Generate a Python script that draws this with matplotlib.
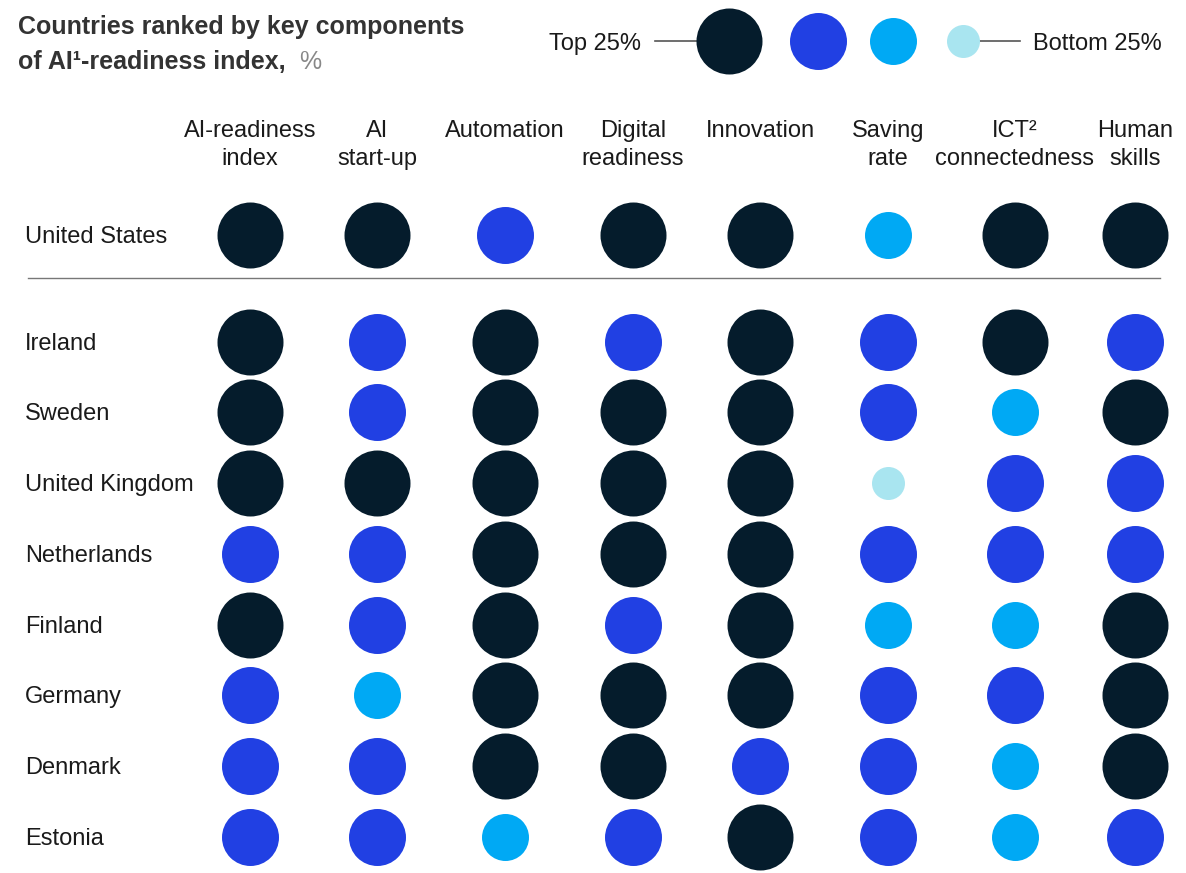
import matplotlib.pyplot as plt
import numpy as np

plt.rcParams['font.family'] = ['Liberation Sans', 'DejaVu Sans']

# quartile of each country per component: 1 = top 25%, 4 = bottom 25%
columns = ['AI-readiness\nindex', 'AI\nstart-up', 'Automation', 'Digital\nreadiness',
           'Innovation', 'Saving\nrate', 'ICT\u00b2\nconnectedness', 'Human\nskills']
countries = ['United States', 'Ireland', 'Sweden', 'United Kingdom', 'Netherlands',
             'Finland', 'Germany', 'Denmark', 'Estonia']
united_states = [1, 1, 2, 1, 1, 3, 1, 1]
ireland = [1, 2, 1, 2, 1, 2, 1, 2]
sweden = [1, 2, 1, 1, 1, 2, 3, 1]
united_kingdom = [1, 1, 1, 1, 1, 4, 2, 2]
netherlands = [2, 2, 1, 1, 1, 2, 2, 2]
finland = [1, 2, 1, 2, 1, 3, 3, 1]
germany = [2, 3, 1, 1, 1, 2, 2, 1]
denmark = [2, 2, 1, 1, 2, 2, 3, 1]
estonia = [2, 2, 3, 2, 1, 2, 3, 2]
quartiles = np.array([united_states, ireland, sweden, united_kingdom, netherlands,
                      finland, germany, denmark, estonia])

colors = {1: '#051C2C', 2: '#2140E3', 3: '#00A9F4', 4: '#A9E5F0'}
diam_px = {1: 66, 2: 57, 3: 47, 4: 33}


def size_of(q):
    # scatter size in pt^2 from diameter in pixels (dpi 100)
    return (diam_px[q] * 72 / 100.0) ** 2


W, H = 1186, 873
fig = plt.figure(figsize=(W / 100, H / 100), dpi=100)
ax = fig.add_axes([0, 0, 1, 1])
ax.set_xlim(0, W)
ax.set_ylim(H, 0)
ax.axis('off')

col_x = [250, 377, 505, 633, 760, 888, 1015, 1135]
row_y = [235, 342, 412, 483, 554, 625, 695, 766, 837]

# circles
for i, country in enumerate(countries):
    for j in range(len(columns)):
        q = quartiles[i, j]
        ax.scatter(col_x[j], row_y[i], s=size_of(q), color=colors[q], linewidths=0, zorder=3)
    ax.text(25, row_y[i] + 2, country, fontsize=17, color='#1a1a1a', ha='left', va='center')

# column headers
for j, name in enumerate(columns):
    ax.text(col_x[j], 120, name, fontsize=17, color='#1a1a1a', ha='center', va='top',
            linespacing=1.35)

# separator
ax.plot([28, 1160], [278, 278], color='#777777', lw=1)

# title
ax.text(18, 15, 'Countries ranked by key components', fontsize=18, color='#333333',
        fontweight='bold', ha='left', va='top')
ax.text(18, 50, 'of AI\u00b9-readiness index,', fontsize=18, color='#333333',
        fontweight='bold', ha='left', va='top')
ax.text(299, 50, '%', fontsize=18, color='#888888', ha='left', va='top')

# legend
leg_x = [729, 818, 893, 963]
leg_y = 41
ax.plot([655, 697], [leg_y, leg_y], color='#555555', lw=1.2, zorder=1)
ax.plot([975, 1020], [leg_y, leg_y], color='#555555', lw=1.2, zorder=1)
for k, q in enumerate([1, 2, 3, 4]):
    ax.scatter(leg_x[k], leg_y, s=size_of(q), color=colors[q], linewidths=0, zorder=3)
ax.text(641, leg_y + 3, 'Top 25%', fontsize=17, color='#1a1a1a', ha='right', va='center')
ax.text(1033, leg_y + 3, 'Bottom 25%', fontsize=17, color='#1a1a1a', ha='left', va='center')

fig.savefig('out.png', dpi=100)
